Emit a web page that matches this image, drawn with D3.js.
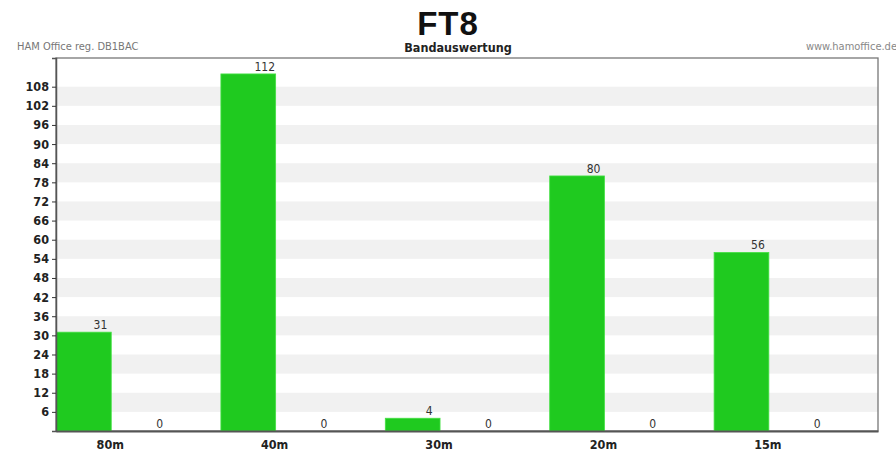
<!DOCTYPE html>
<html><head><meta charset="utf-8">
<script src="https://cdn.jsdelivr.net/npm/d3@7"></script>
<style>body{margin:0;background:#fff}svg{display:block}</style>
</head><body>
<script>
const categories = ["80m","40m","30m","20m","15m"];
const qsoValues = [31,112,4,80,56];
const secondValues = [0,0,0,0,0];
const yTicks = [6,12,18,24,30,36,42,48,54,60,66,72,78,84,90,96,102,108];
const title = "FT8";
const subtitle = "Bandauswertung";
const leftNote = "HAM Office reg. DB1BAC";
const rightNote = "www.hamoffice.de";

const W = 896, H = 456;
const m = {l:56, r:18, t:58, b:25};
const svg = d3.select("body").append("svg").attr("width",W).attr("height",H);
const font = "'DejaVu Sans Condensed','DejaVu Sans',sans-serif";

const x = d3.scaleBand().domain(categories).range([m.l, W-m.r]).padding(0);
const y = d3.scaleLinear().domain([0,117]).range([H-m.b, m.t]);
const bw = x.bandwidth();

// stripes
const stripes = yTicks.filter((d,i)=>i%2===0);
svg.append("g").selectAll("rect").data(stripes).join("rect")
  .attr("x", m.l).attr("width", W-m.r-m.l)
  .attr("y", d=>y(d+6)).attr("height", d=>y(d)-y(d+6))
  .attr("fill","#f1f1f1");

// frame
svg.append("rect").attr("x",m.l).attr("y",m.t).attr("width",W-m.r-m.l).attr("height",H-m.b-m.t)
  .attr("fill","none").attr("stroke","#777").attr("stroke-width",1.3);

// bars
svg.append("g").selectAll("rect").data(categories).join("rect")
  .attr("x", d=>x(d)+0.5).attr("width", bw*0.333)
  .attr("y", (d,i)=>y(qsoValues[i])).attr("height", (d,i)=>y(0)-y(qsoValues[i]))
  .attr("fill","#1fca1f").attr("stroke","#44e044").attr("stroke-width",0.8);

// value labels with white backing
const vl = svg.append("g").attr("font-family",font).attr("font-size",12).attr("fill","#333");
categories.forEach((c,i)=>{
  const cx = x(c)+bw*0.27, cy = y(qsoValues[i])-3;
  const t = vl.append("text").attr("x",cx).attr("y",cy).attr("text-anchor","middle").text(qsoValues[i]);
  const bb = t.node().getBBox();
  vl.insert("rect","text").attr("x",bb.x-1).attr("y",bb.y).attr("width",bb.width+2).attr("height",bb.height-2).attr("fill","#fff").attr("fill-opacity", cy < m.t+12 ? 1 : 0);
  vl.append("text").attr("x",x(c)+bw*0.63).attr("y",y(secondValues[i])-3).attr("text-anchor","middle").text(secondValues[i]);
});

// y axis
const ya = svg.append("g").attr("transform",`translate(${m.l},0)`)
  .call(d3.axisLeft(y).tickValues(yTicks).tickSize(4).tickPadding(3));
ya.select(".domain").attr("stroke","#555").attr("stroke-width",1.5);
ya.selectAll(".tick line").attr("stroke","#333");
ya.selectAll(".tick text").attr("font-family",font).attr("font-weight","bold").attr("font-size",12.5).attr("fill","#222");

// x axis
const xa = svg.append("g").attr("transform",`translate(0,${H-m.b})`)
  .call(d3.axisBottom(x).tickSize(0).tickPadding(9));
xa.select(".domain").attr("stroke","#555").attr("stroke-width",2);
xa.selectAll(".tick").attr("transform", d=>`translate(${x(d)+bw*0.33},0)`);
xa.selectAll(".tick text").attr("font-family",font).attr("font-weight","bold").attr("font-size",12.5).attr("fill","#222");

// titles
svg.append("text").attr("x",448).attr("y",35).attr("text-anchor","middle")
  .attr("font-family","'Liberation Sans',Arial,sans-serif").attr("font-weight","bold").attr("font-size",33)
  .attr("letter-spacing",1).attr("fill","#111").text(title);
svg.append("text").attr("x",458).attr("y",52).attr("text-anchor","middle")
  .attr("font-family",font).attr("font-weight","bold").attr("font-size",12.5).attr("fill","#222").text(subtitle);
svg.append("text").attr("x",17).attr("y",50)
  .attr("font-family",font).attr("font-size",11).attr("fill","#777").text(leftNote);
svg.append("text").attr("x",897).attr("y",50).attr("text-anchor","end")
  .attr("font-family",font).attr("font-size",11).attr("fill","#888").text(rightNote);
</script>
</body></html>
